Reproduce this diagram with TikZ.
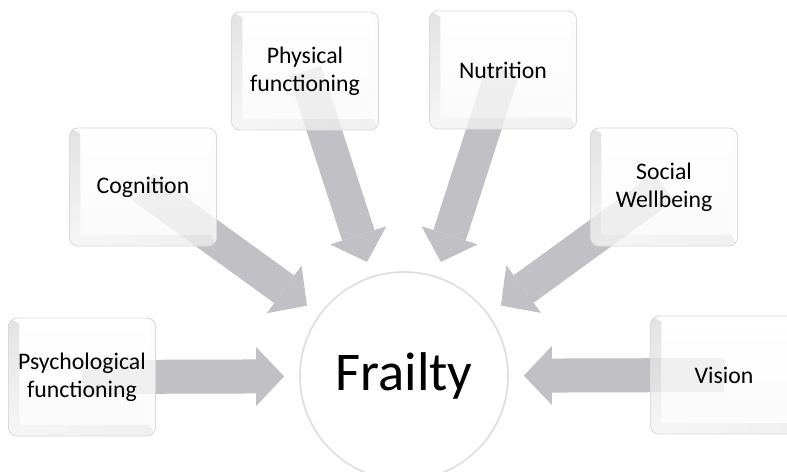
\documentclass[tikz,border=0pt]{standalone}
\usepackage{fontspec}
\setmainfont{Carlito}
\usetikzlibrary{arrows.meta,calc,backgrounds}
\definecolor{arrowgray}{RGB}{192,192,197}

\begin{document}
\begin{tikzpicture}[x=0.025cm, y=-0.025cm,
  keybox/.style = {draw=gray!28, line width=0.6pt, rounded corners=6pt, fill=white, fill opacity=0.55, text opacity=1,
    minimum width=3.675cm, minimum height=2.95cm, text width=3.5cm, align=center, inner sep=0pt,
    font=\fontsize{16.9}{19.8}\selectfont,
    path picture={
      \coordinate (nw) at (path picture bounding box.north west);
      \coordinate (ne) at (path picture bounding box.north east);
      \coordinate (se) at (path picture bounding box.south east);
      \coordinate (sw) at (path picture bounding box.south west);
      \coordinate (inw) at ($(nw)+(8pt,-4pt)$);
      \coordinate (ine) at ($(ne)+(-4pt,-4pt)$);
      \coordinate (ise) at ($(se)+(-4pt,8pt)$);
      \coordinate (isw) at ($(sw)+(8pt,8pt)$);
      \shade[sharp corners, top color=gray!40, bottom color=gray!12] (nw) -- (inw) -- (isw) -- (sw) -- cycle;
      \shade[sharp corners, left color=gray!12, right color=gray!22] (sw) -- (isw) -- (ise) -- (se) -- cycle;
      \fill[sharp corners, gray!4] (se) -- (ise) -- (ine) -- (ne) -- cycle;
      \shade[sharp corners, top color=white, bottom color=gray!6] (inw) rectangle (ise);
    }},
  feed/.style = {arrowgray, line width=0.85cm, shorten >=0.375cm,
    -{Triangle[width=1.475cm, length=0.7cm, line width=0pt]}},
  hub/.style = {circle, minimum size=5.2cm, draw=gray!25, line width=1.2pt, fill=white,
    font=\fontsize{38.8}{40}\selectfont}]

% Frame
\useasboundingbox (0,0) rectangle (787,472);

% Centre
\node[hub] (fr) at (404,376) {Frailty};

% Factors
\node[keybox] (psy) at (82,377) {Psychological\\functioning};
\node[keybox] (cog) at (143,187) {Cognition};
\node[keybox] (phys) at (305,71) {Physical\\functioning};
\node[keybox] (nutr) at (503,70) {Nutrition};
\node[keybox] (soc) at (664,187) {Social\\Wellbeing};
\node[keybox] (vis) at (724,375) {Vision};

% Arrows (behind the keys)
\begin{scope}[on background layer]
\draw[feed] (psy.center) -- (fr);
\draw[feed] (cog.center) -- (fr);
\draw[feed] (phys.center) -- (fr);
\draw[feed] (nutr.center) -- (fr);
\draw[feed] (soc.center) -- (fr);
\draw[feed] (vis.center) -- (fr);
\end{scope}

\end{tikzpicture}
\end{document}
